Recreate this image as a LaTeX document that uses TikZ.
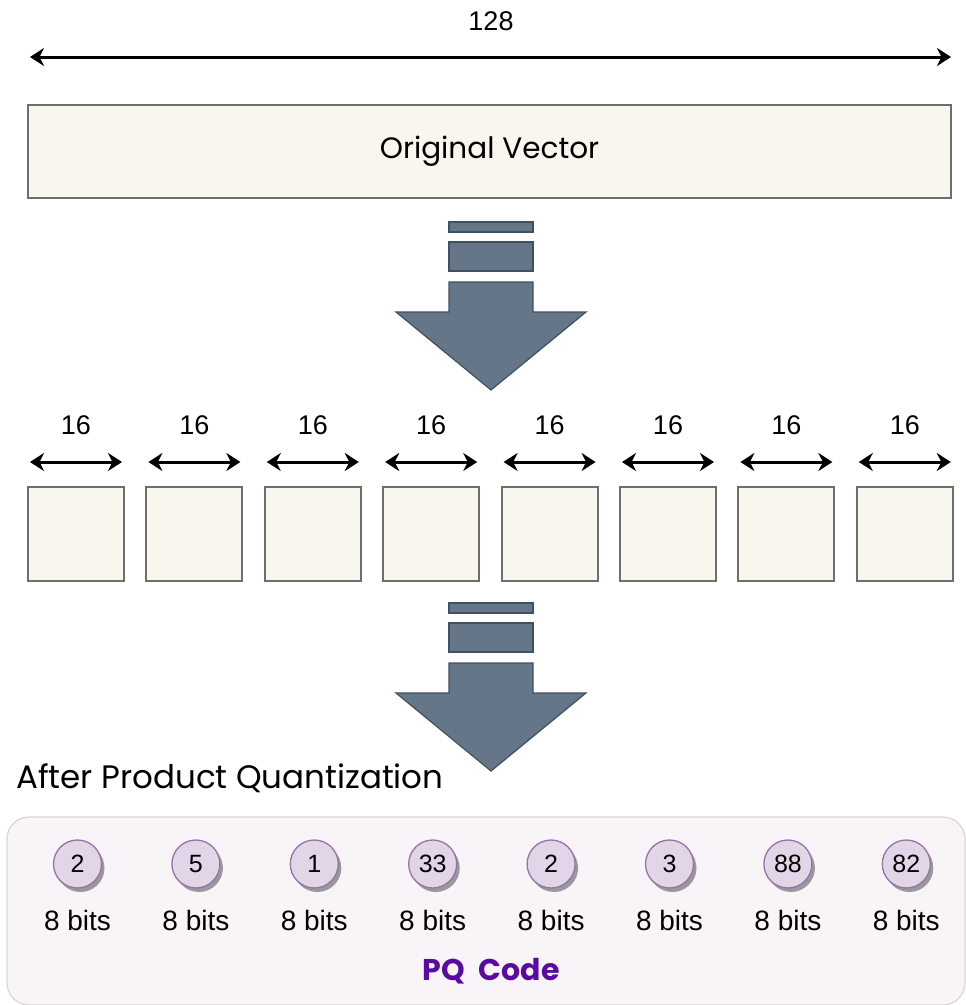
\documentclass[tikz,border=0pt]{standalone}
\usepackage{fontspec}
\setmainfont{Liberation Sans}
\newfontfamily\handfont{Poppins}
\usetikzlibrary{arrows.meta,shadows}

\definecolor{vecfill}{HTML}{F9F7ED}
\definecolor{vecdraw}{HTML}{6E6E6E}
\definecolor{slatefill}{HTML}{647687}
\definecolor{slatedraw}{HTML}{3E5064}
\definecolor{codefill}{HTML}{E1D5E7}
\definecolor{codedraw}{HTML}{9673A6}
\definecolor{panelfill}{HTML}{F8F4F8}
\definecolor{paneldraw}{HTML}{D8D8D0}
\definecolor{pqpurple}{HTML}{5A0AA0}

\begin{document}
\begin{tikzpicture}[x=1pt,y=-1pt,
  dimarrow/.style={line width=3pt,{Stealth[length=14pt,width=18pt,inset=4.5pt]}-{Stealth[length=14pt,width=18pt,inset=4.5pt]}},
  dimlabel/.style={font=\fontsize{27}{29}\selectfont},
  vecbox/.style={draw=vecdraw,line width=2pt,fill=vecfill,inner sep=0pt},
  slate/.style={fill=slatefill,draw=slatedraw,line width=1.2pt,line join=miter},
  codecircle/.style={circle,draw=codedraw,line width=1.3pt,fill=codefill,minimum size=48pt,inner sep=0pt,
    font=\fontsize{25}{27}\selectfont,
    drop shadow={shadow xshift=3pt,shadow yshift=-4pt,fill=black!55,opacity=0.7}},
  bitslabel/.style={font=\fontsize{28}{30}\selectfont},
  downarrow/.pic={
    \path[slate] (-42,0) rectangle (42,10);
    \path[slate] (-42,20) rectangle (42,49);
    \path[slate] (-42,60) -- (-42,90) -- (-95,90) -- (0,168) -- (95,90) -- (42,90) -- (42,60) -- cycle;
  }]
\useasboundingbox (0,0) rectangle (966,1005);

% full vector and its length
\coordinate (topL) at (30,57);
\coordinate (topR) at (951,57);
\draw[dimarrow] (topL) -- (topR);
\node[dimlabel] (len) at (491,21) {128};
\node[vecbox,minimum width=923pt,minimum height=93pt,font=\handfont\fontsize{29.5}{31}\selectfont]
  (orig) at (489.5,151.5) {Original Vector};

% split step
\pic at (491,222) {downarrow};

% eight sub-vectors of 16 dimensions
\foreach \i in {0,...,7}{
  \pgfmathsetmacro{\cx}{76+118.4*\i}
  \coordinate (subL\i) at (\cx-46,462);
  \coordinate (subR\i) at (\cx+46,462);
  \draw[dimarrow] (subL\i) -- (subR\i);
  \node[dimlabel] (sublen\i) at (\cx,425) {16};
  \node[vecbox,minimum width=96pt,minimum height=94pt] (sub\i) at (\cx,534) {};
}

% quantization step
\pic at (491,603) {downarrow};

\node[anchor=west,font=\handfont\fontsize{32.5}{34}\selectfont,inner sep=0pt] (after) at (16,778) {After Product Quantization};

% PQ code panel
\node[draw=paneldraw,line width=1.2pt,fill=panelfill,rounded corners=22pt,
  minimum width=958pt,minimum height=188pt,inner sep=0pt] (panel) at (486,911) {};

\foreach \v [count=\n from 0] in {2,5,1,33,2,3,88,82}{
  \pgfmathsetmacro{\cx}{77.5+118.4*\n}
  \node[codecircle] (code\n) at (\cx,864) {\v};
  \node[bitslabel] (bits\n) at (\cx,920) {8 bits};
}

\node[font=\handfont\bfseries\fontsize{30}{32}\selectfont,text=pqpurple] (pq) at (491,971) {PQ\hspace{14pt}Code};
\end{tikzpicture}
\end{document}
